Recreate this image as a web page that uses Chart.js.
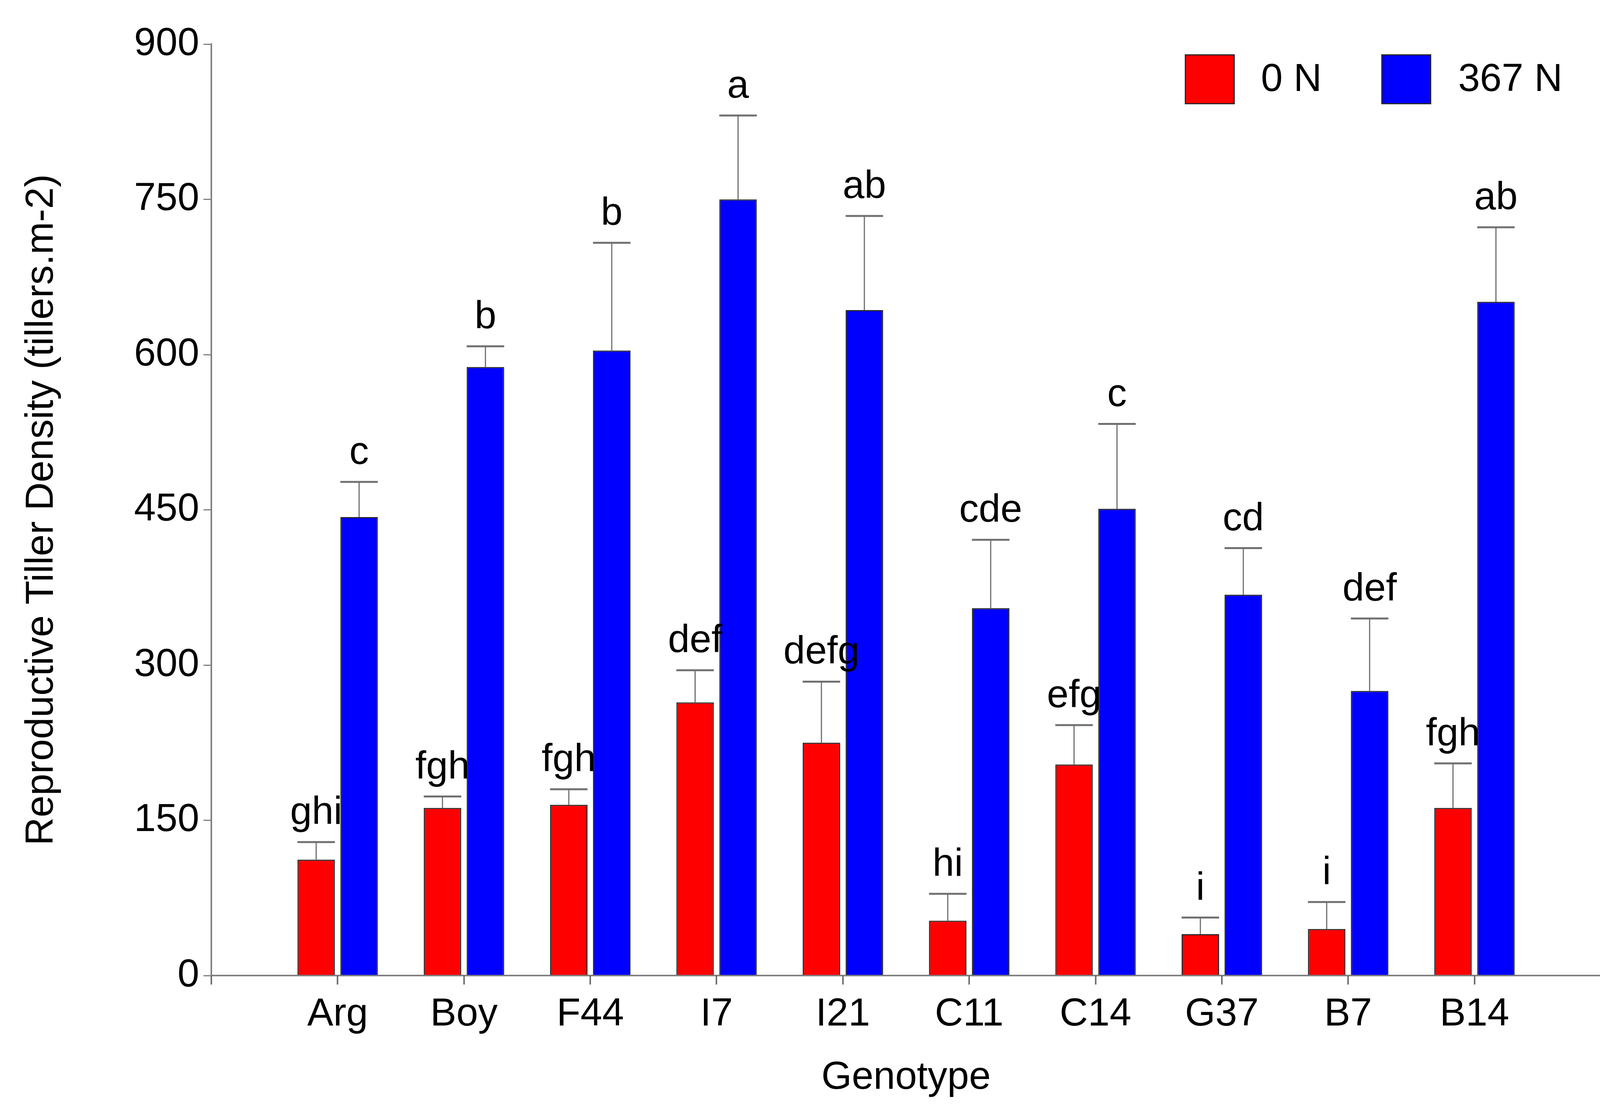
<!DOCTYPE html>
<html>
<head>
<meta charset="utf-8">
<script src="https://cdn.jsdelivr.net/npm/chart.js@4/dist/chart.umd.min.js"></script>
<style>
  html, body { margin: 0; padding: 0; background: #fff; }
  canvas { display: block; }
</style>
</head>
<body>
<canvas id="chart" width="4163" height="2850"></canvas>
<script>
// Genotypes (empty slots at both ends keep the axis running past the first and last group)
const genotypes = ['', 'Arg', 'Boy', 'F44', 'I7', 'I21', 'C11', 'C14', 'G37', 'B7', 'B14', ''];

// 0 N treatment
const lowN = [null, 112, 162, 165, 264, 225, 53, 204, 40, 45, 162, null];
const lowNErr = [null, 17, 11, 15, 31, 59, 26, 38, 16, 26, 43, null];
const lowNLetters = ['', 'ghi', 'fgh', 'fgh', 'def', 'defg', 'hi', 'efg', 'i', 'i', 'fgh', ''];

// 367 N treatment
const highN = [null, 443, 588, 604, 750, 643, 355, 451, 368, 275, 651, null];
const highNErr = [null, 34, 20, 104, 81, 91, 66, 82, 45, 70, 72, null];
const highNLetters = ['', 'c', 'b', 'b', 'a', 'ab', 'cde', 'c', 'cd', 'def', 'ab', ''];

const yTicks = [0, 150, 300, 450, 600, 750, 900];

const FONT = 'Liberation Sans, Arial, sans-serif';
const AXIS_GREY = '#808080';

// Error bars (upper only) and significance letters
const errorBars = {
    id: 'errorBars',
    afterDatasetsDraw(chart) {
        const ctx = chart.ctx;
        const y = chart.scales.y;
        const errs = [lowNErr, highNErr];
        const letters = [lowNLetters, highNLetters];
        ctx.save();
        chart.data.datasets.forEach((ds, di) => {
            const meta = chart.getDatasetMeta(di);
            meta.data.forEach((bar, i) => {
                const v = ds.data[i];
                if (v === null) return;
                const top = y.getPixelForValue(v);
                const errTop = y.getPixelForValue(v + errs[di][i]);
                const half = bar.width / 2;
                ctx.strokeStyle = '#707070';
                ctx.lineWidth = 3;
                ctx.beginPath();
                ctx.moveTo(bar.x, top);
                ctx.lineTo(bar.x, errTop);
                ctx.stroke();
                ctx.lineWidth = 5;
                ctx.beginPath();
                ctx.moveTo(bar.x - half, errTop);
                ctx.lineTo(bar.x + half, errTop);
                ctx.stroke();

                ctx.fillStyle = '#000';
                ctx.font = '100px ' + FONT;
                ctx.textAlign = 'center';
                ctx.textBaseline = 'alphabetic';
                ctx.fillText(letters[di][i], bar.x, errTop - 46);
            });
        });
        ctx.restore();
    }
};

// Tick marks under the x axis, one per category position
const xTickMarks = {
    id: 'xTickMarks',
    afterDraw(chart) {
        const ctx = chart.ctx;
        const x = chart.scales.x;
        const base = chart.chartArea.bottom;
        ctx.save();
        ctx.fillStyle = '#707070';
        for (let i = 0; i < x.ticks.length; i++) {
            const px = Math.round(x.getPixelForTick(i));
            ctx.fillRect(px - 2, base, 4, 23);
        }
        ctx.restore();
    }
};

// Legend in the top right corner
const boxLegend = {
    id: 'boxLegend',
    afterDraw(chart) {
        const ctx = chart.ctx;
        const items = [
            { box: 3033, text: 3228 },
            { box: 3536, text: 3733 },
        ];
        ctx.save();
        chart.data.datasets.forEach((ds, i) => {
            const it = items[i];
            ctx.fillStyle = ds.backgroundColor;
            ctx.fillRect(it.box, 139, 128, 128);
            ctx.strokeStyle = '#2a2a2a';
            ctx.lineWidth = 3;
            ctx.strokeRect(it.box + 1.5, 140.5, 125, 125);
            ctx.fillStyle = '#000';
            ctx.font = '100px ' + FONT;
            ctx.textAlign = 'left';
            ctx.textBaseline = 'middle';
            ctx.fillText(ds.label, it.text, 205);
        });
        ctx.restore();
    }
};

const ctx = document.getElementById('chart').getContext('2d');

const chart = new Chart(ctx, {
    type: 'bar',
    data: {
        labels: genotypes,
        datasets: [
            {
                label: '0 N',
                data: lowN,
                backgroundColor: '#ff0000',
                borderColor: '#2a2a2a',
                borderWidth: 3,
            },
            {
                label: '367 N',
                data: highN,
                backgroundColor: '#0000ff',
                borderColor: '#2a2a2a',
                borderWidth: 3,
            },
        ],
    },
    options: {
        responsive: false,
        devicePixelRatio: 1,
        animation: false,
        categoryPercentage: 0.68,
        barPercentage: 0.873,
        layout: { padding: { top: 113, right: 65, left: 0, bottom: 0 } },
        plugins: {
            legend: { display: false },
            tooltip: { enabled: false },
        },
        scales: {
            x: {
                offset: false,
                grid: {
                    display: false,
                    offset: false,
                },
                border: { display: true, color: AXIS_GREY, width: 4 },
                ticks: {
                    color: '#000',
                    padding: 32,
                    maxRotation: 0,
                    autoSkip: false,
                    font: { family: FONT, size: 100 },
                },
                title: {
                    display: true,
                    text: 'Genotype',
                    color: '#000',
                    font: { family: FONT, size: 100 },
                    padding: { top: 0, bottom: 30 },
                },
                afterFit(scale) { scale.height = 352; },
            },
            y: {
                min: 0,
                max: 900,
                afterBuildTicks(scale) {
                    scale.ticks = yTicks.map((v) => ({ value: v }));
                },
                grid: {
                    display: true,
                    drawOnChartArea: false,
                    drawTicks: true,
                    tickLength: 20,
                    color: AXIS_GREY,
                    lineWidth: 3,
                },
                border: { display: true, color: AXIS_GREY, width: 4 },
                ticks: {
                    color: '#000',
                    padding: 11,
                    font: { family: FONT, size: 100 },
                },
                title: {
                    display: true,
                    text: 'Reproductive Tiller Density (tillers.m-2)',
                    color: '#000',
                    font: { family: FONT, size: 100 },
                    padding: { top: 47, bottom: 0 },
                },
                afterFit(scale) { scale.width = 541; },
            },
        },
    },
    plugins: [errorBars, xTickMarks, boxLegend],
});
</script>
</body>
</html>
